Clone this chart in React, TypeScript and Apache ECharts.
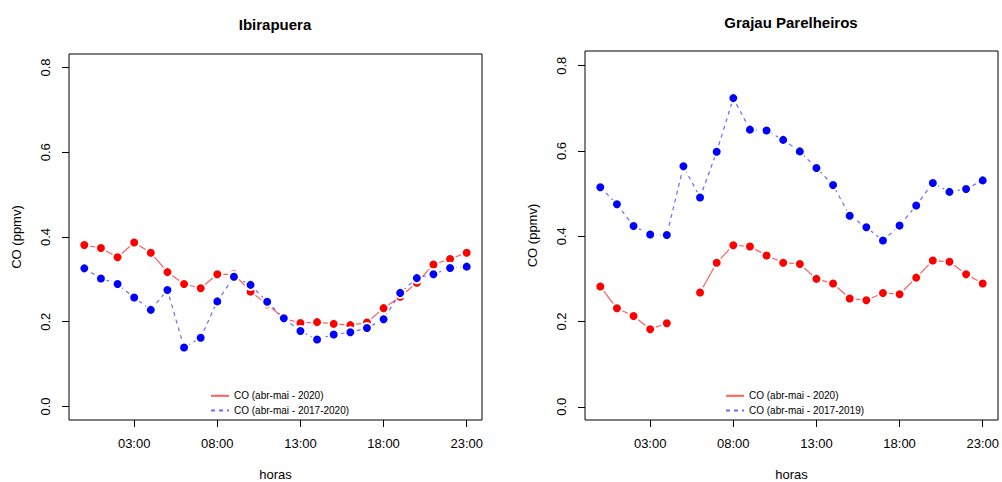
import React, { useEffect, useRef } from "react";
import * as echarts from "echarts";

const hours = [0, 1, 2, 3, 4, 5, 6, 7, 8, 9, 10, 11, 12, 13, 14, 15, 16, 17, 18, 19, 20, 21, 22, 23];
const tickHours = [3, 8, 13, 18, 23];
const tickLabels = ["03:00", "08:00", "13:00", "18:00", "23:00"];
const yTicks = [0, 0.2, 0.4, 0.6, 0.8];

const ibiraRed2020 = [0.381, 0.374, 0.352, 0.387, 0.363, 0.317, 0.289, 0.279, 0.312, 0.312, 0.271, 0.241, 0.208, 0.197, 0.199, 0.195, 0.192, 0.198, 0.232, 0.259, 0.292, 0.335, 0.348, 0.363];
const ibiraBlue1720 = [0.326, 0.302, 0.289, 0.257, 0.228, 0.275, 0.139, 0.162, 0.248, 0.306, 0.287, 0.247, 0.208, 0.178, 0.158, 0.170, 0.175, 0.185, 0.206, 0.268, 0.303, 0.312, 0.327, 0.330];
const grajauRed2020 = [0.282, 0.231, 0.213, 0.182, 0.196, null, 0.268, 0.338, 0.379, 0.376, 0.355, 0.338, 0.335, 0.300, 0.289, 0.254, 0.250, 0.267, 0.264, 0.303, 0.343, 0.340, 0.311, 0.289];
const grajauBlue1719 = [0.515, 0.475, 0.424, 0.404, 0.403, 0.564, 0.491, 0.598, 0.724, 0.650, 0.648, 0.626, 0.599, 0.560, 0.520, 0.448, 0.421, 0.390, 0.425, 0.472, 0.525, 0.504, 0.511, 0.531];

const titles = ["Ibirapuera", "Grajau Parelheiros"];
const legendRed = "CO (abr-mai - 2020)";
const legendBlueLeft = "CO (abr-mai - 2017-2020)";
const legendBlueRight = "CO (abr-mai - 2017-2019)";

const FONT = "Liberation Sans, Arial, Helvetica, sans-serif";

const pairs = (vals: (number | null)[]) => hours.map((h, i) => [h, vals[i] === null ? "-" : vals[i]]);

export default function App() {
  const ref = useRef<HTMLDivElement>(null);
  useEffect(() => {
    if (!ref.current) return;
    const chart = echarts.init(ref.current, undefined, { renderer: "svg" });

    const xAxisBase = (gridIndex: number) => ({
      type: "value",
      gridIndex,
      position: "bottom",
      min: -0.92,
      max: 23.92,
      name: "horas",
      nameLocation: "middle",
      nameGap: 48,
      nameTextStyle: { fontFamily: FONT, fontSize: 13, color: "#000" },
      axisLine: { show: false, onZero: false },
      axisTick: { show: true, length: 7, customValues: tickHours, lineStyle: { color: "#000" } },
      axisLabel: {
        show: true,
        customValues: tickHours,
        margin: 17,
        fontFamily: FONT,
        fontSize: 13,
        color: "#000",
        formatter: (v: number) => tickLabels[tickHours.indexOf(Math.round(v))] ?? "",
      },
      splitLine: { show: false },
    });

    const yAxisBase = (gridIndex: number, min: number, max: number) => ({
      type: "value",
      gridIndex,
      position: "left",
      min,
      max,
      name: "CO (ppmv)",
      nameLocation: "middle",
      nameGap: 46,
      nameTextStyle: { fontFamily: FONT, fontSize: 13, color: "#000" },
      axisLine: { show: false, onZero: false },
      axisTick: { show: true, length: 7, customValues: yTicks, lineStyle: { color: "#000" } },
      axisLabel: {
        show: true,
        customValues: yTicks,
        rotate: 90,
        margin: 17,
        fontFamily: FONT,
        fontSize: 13,
        color: "#000",
        formatter: (v: number) => v.toFixed(1),
      },
      splitLine: { show: false },
    });

    const redSeries = (idx: number, vals: (number | null)[]) => ({
      type: "line",
      name: legendRed,
      xAxisIndex: idx,
      yAxisIndex: idx,
      data: pairs(vals),
      symbol: "circle",
      symbolSize: 10,
      itemStyle: { color: "#ff0000", borderColor: "#ffffff", borderWidth: 2 },
      lineStyle: { color: "rgba(255,40,40,0.75)", width: 1.2, type: "solid" },
      connectNulls: false,
      z: 2,
    });
    const blueSeries = (idx: number, vals: (number | null)[], name: string) => ({
      type: "line",
      name,
      xAxisIndex: idx,
      yAxisIndex: idx,
      data: pairs(vals),
      symbol: "circle",
      symbolSize: 10,
      itemStyle: { color: "#0000ff", borderColor: "#ffffff", borderWidth: 2 },
      lineStyle: { color: "rgba(70,70,255,0.8)", width: 1.2, type: [4, 4] },
      z: 3,
    });

    const legendBase = (left: number, blueName: string) => ({
      show: true,
      orient: "vertical",
      left,
      top: 385,
      itemWidth: 18,
      itemHeight: 12,
      itemGap: 3,
      selectedMode: false,
      itemStyle: { opacity: 0 },
      textStyle: { fontFamily: FONT, fontSize: 10, color: "#000" },
      data: [legendRed, blueName],
    });

    chart.setOption({
      animation: false,
      backgroundColor: "#ffffff",
      grid: [
        { left: 69, top: 54, width: 413, height: 366, show: true, borderColor: "#000", borderWidth: 1, backgroundColor: "transparent", outerBoundsMode: "none", containLabel: false },
        { left: 585, top: 51, width: 413, height: 369, show: true, borderColor: "#000", borderWidth: 1, backgroundColor: "transparent", outerBoundsMode: "none", containLabel: false },
      ],
      legend: [legendBase(205, legendBlueLeft), legendBase(720, legendBlueRight)],
      xAxis: [xAxisBase(0), xAxisBase(1)],
      yAxis: [yAxisBase(0, -0.032, 0.832), yAxisBase(1, -0.031, 0.8345)],
      series: [
        redSeries(0, ibiraRed2020),
        blueSeries(0, ibiraBlue1720, legendBlueLeft),
        redSeries(1, grajauRed2020),
        blueSeries(1, grajauBlue1719, legendBlueRight),
      ],
      graphic: [
        { type: "text", x: 275, y: 24, style: { text: titles[0], font: `bold 15px ${FONT}`, fill: "#000", textAlign: "center", textVerticalAlign: "middle" } },
        { type: "text", x: 791, y: 22, style: { text: titles[1], font: `bold 15px ${FONT}`, fill: "#000", textAlign: "center", textVerticalAlign: "middle" } },
      ],
    });
    return () => chart.dispose();
  }, []);
  return <div ref={ref} style={{ position: "fixed", left: 0, top: 0, width: 1002, height: 482, background: "#fff" }} />;
}
